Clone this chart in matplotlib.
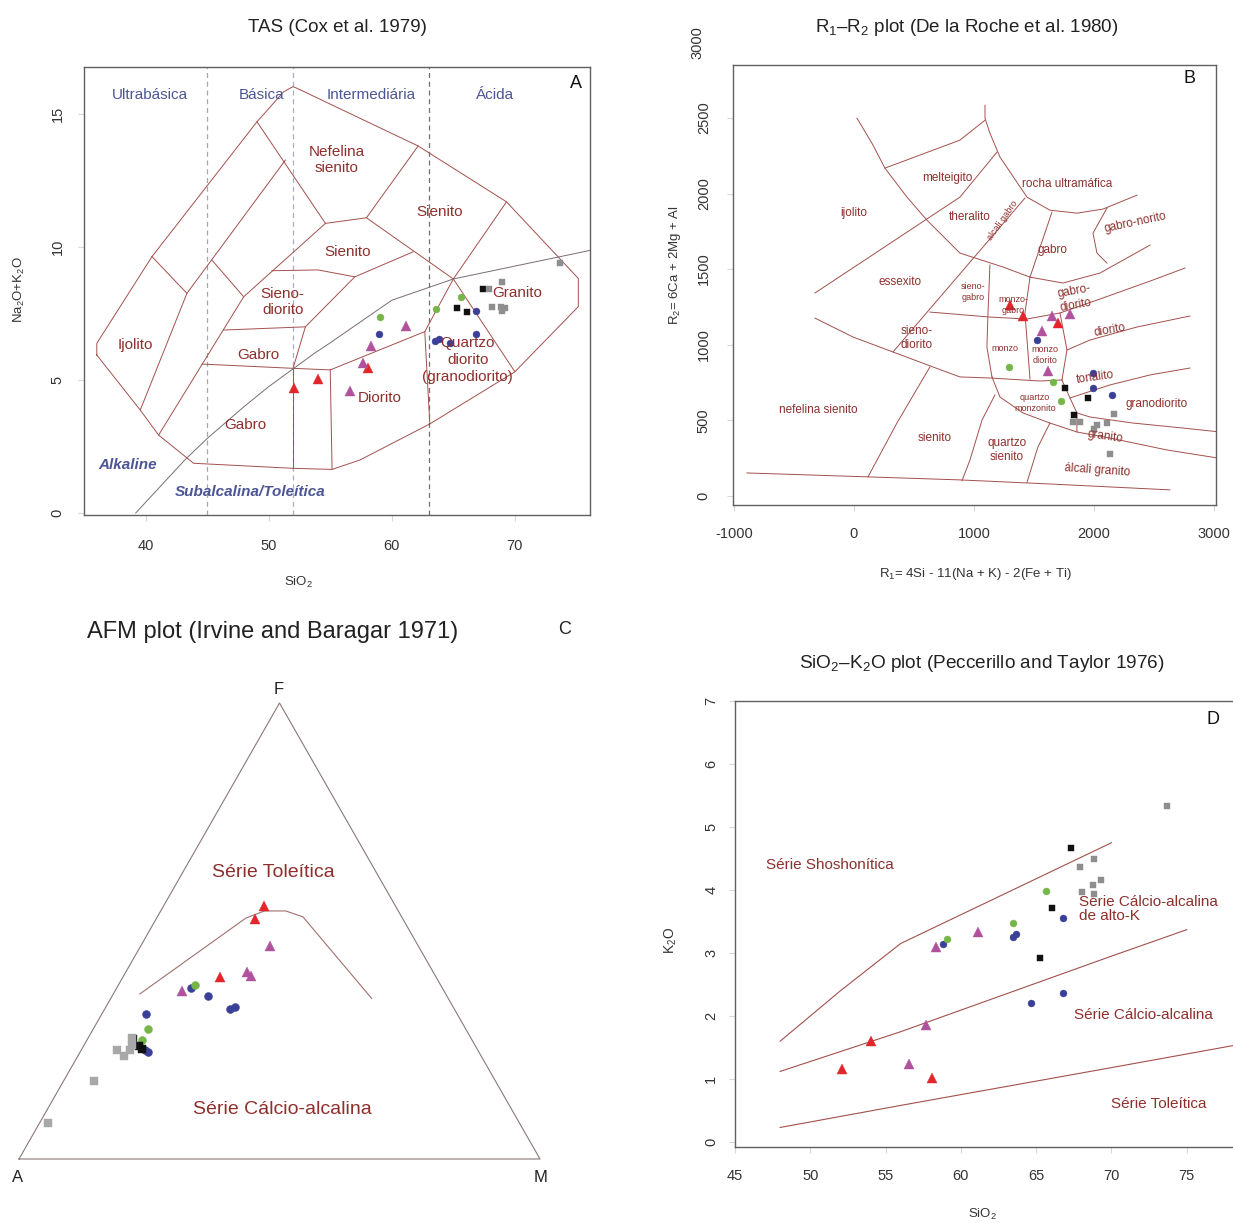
import matplotlib
matplotlib.use("Agg")
import matplotlib.pyplot as plt
import matplotlib.transforms as mtrans
import numpy as np

plt.rcParams['font.family'] = ['Liberation Sans', 'DejaVu Sans']
plt.rcParams['mathtext.fontset'] = 'custom'
plt.rcParams['mathtext.rm'] = 'Liberation Sans'
plt.rcParams['mathtext.it'] = 'Liberation Sans:italic'
plt.rcParams['mathtext.bf'] = 'Liberation Sans:bold'
plt.rcParams['axes.unicode_minus'] = False

# ---------------- sample groups (style) ----------------
groups = ['red', 'magenta', 'blue', 'green', 'black', 'gray']
g_color = {'red': '#e3262b', 'magenta': '#b0529c', 'blue': '#3a3f98',
           'green': '#76b548', 'black': '#111111', 'gray': '#8e8e8e'}
g_marker = {'red': '^', 'magenta': '^', 'blue': 'o', 'green': 'o',
            'black': 's', 'gray': 's'}

# ---------------- Panel A : TAS data ----------------
tas_sio2 = {'red': [52.09, 54.01, 58.07],
            'magenta': [56.59, 57.67, 58.35, 61.14],
            'blue': [59.0, 63.5, 63.8, 64.72, 66.8, 66.8],
            'green': [59.02, 63.63, 65.66],
            'black': [65.26, 66.07, 67.37],
            'gray': [67.91, 68.92, 68.1, 68.9, 68.92, 69.2, 73.66]}
tas_alk = {'red': [4.69, 5.03, 5.44],
           'magenta': [4.6, 5.63, 6.28, 7.03],
           'blue': [6.73, 6.45, 6.55, 6.38, 6.73, 7.6],
           'green': [7.38, 7.66, 8.11],
           'black': [7.69, 7.57, 8.41],
           'gray': [8.41, 8.70, 7.73, 7.75, 7.6, 7.7, 9.41]}

# TAS (Cox et al. 1979) field boundaries
tas_outer_x = [36.04, 39.57, 41.06, 43.9, 51.98, 55.15, 57.4, 63.09, 70.0, 75.15, 75.15,
               69.32, 62.14, 52.3, 51.98, 51.22, 49.05, 40.52, 36.04, 36.04]
tas_outer_y = [5.94, 3.87, 2.93, 1.87, 1.68, 1.64, 1.99, 3.35, 5.31, 7.76, 8.82,
               11.7, 13.8, 15.97, 16.03, 15.84, 14.71, 9.64, 6.38, 5.94]
tas_l2_x = [51.36, 43.36, 39.57]; tas_l2_y = [13.27, 8.26, 3.87]
tas_l3_x = [54.61, 47.97, 41.06]; tas_l3_y = [10.89, 8.13, 2.93]
tas_ijol_x = [40.52, 43.36]; tas_ijol_y = [9.64, 8.26]
tas_col2_x = [45.39, 47.97]; tas_col2_y = [9.51, 8.13]
tas_nefl_x = [49.05, 54.61, 57.94, 62.14]; tas_nefl_y = [14.71, 10.89, 11.1, 13.8]
tas_sien_x = [57.94, 65.0, 69.32]; tas_sien_y = [11.1, 8.8, 11.7]
tas_grqd_x = [65.0, 70.0]; tas_grqd_y = [8.8, 5.31]
tas_qdl_x = [65.0, 62.68, 63.09]; tas_qdl_y = [8.8, 6.82, 3.35]
tas_gab_x = [44.58, 51.98, 55.0, 62.68]; tas_gab_y = [5.6, 5.44, 5.38, 6.82]
tas_v52_x = [51.98, 51.98]; tas_v52_y = [5.44, 1.68]
tas_v55_x = [55.0, 55.15]; tas_v55_y = [5.38, 1.64]
tas_sdb_x = [46.34, 52.98]; tas_sdb_y = [6.88, 7.0]
tas_sdr_x = [51.98, 52.98, 57.0]; tas_sdr_y = [5.44, 7.0, 8.88]
tas_sdt_x = [50.27, 54.0, 57.0, 61.73]; tas_sdt_y = [9.11, 9.14, 8.88, 9.82]
tas_lines = [(tas_outer_x, tas_outer_y), (tas_l2_x, tas_l2_y), (tas_l3_x, tas_l3_y),
             (tas_ijol_x, tas_ijol_y), (tas_col2_x, tas_col2_y), (tas_nefl_x, tas_nefl_y),
             (tas_sien_x, tas_sien_y), (tas_grqd_x, tas_grqd_y), (tas_qdl_x, tas_qdl_y),
             (tas_gab_x, tas_gab_y), (tas_v52_x, tas_v52_y), (tas_v55_x, tas_v55_y),
             (tas_sdb_x, tas_sdb_y), (tas_sdr_x, tas_sdr_y), (tas_sdt_x, tas_sdt_y)]
# Irvine & Baragar alkaline / subalkaline divide
ib_x = [39.2, 40, 43.2, 45, 48, 50, 53.7, 55, 60, 65, 77.4]
ib_y = [0, 0.4, 2, 2.8, 4, 4.75, 6, 6.4, 8, 8.8, 10]
tas_div = [45, 52, 63]
tas_div_col = ['#a8a8a8', '#a9aec8', '#707070']

# ---------------- Panel B : R1-R2 data ----------------
r1 = {'red': [1300, 1411, 1703],
      'magenta': [1648, 1564, 1800, 1619],
      'blue': [1528, 1994, 1989, 2148],
      'green': [1294, 1661, 1725],
      'black': [1758, 1950, 1836],
      'gray': [1828, 1883, 2022, 2000, 2111, 2167, 2133]}
r2 = {'red': [1262, 1190, 1145],
      'magenta': [1190, 1093, 1201, 826],
      'blue': [1031, 815, 712, 668],
      'green': [851, 755, 630],
      'black': [712, 646, 535],
      'gray': [491, 491, 469, 441, 484, 542, 278]}

b_base = ([-892, 117, 883, 1633, 2633], [152, 126, 106, 79, 40])
b_nefsien = ([117, 358, 633], [126, 482, 853])
b_essex = ([325, 1425], [952, 1970])
b_lowcurve = ([-325, -8, 325, 658, 883, 1133, 1550, 1733], [1176, 1051, 952, 853, 787, 780, 760, 767])
b_ijol = ([-325, 883, 1192], [1342, 1976, 2274])
b_c1 = ([25, 150, 258, 442, 608, 775, 883, 1242, 1467, 1742, 2050, 2467],
        [2498, 2333, 2168, 1976, 1824, 1692, 1606, 1514, 1447, 1408, 1474, 1659])
b_melt = ([258, 883, 1092], [2168, 2353, 2485])
b_ultra = ([1092, 1092, 1133, 1217, 1358, 1442, 1633, 1858, 2075, 2358],
           [2584, 2498, 2399, 2241, 2075, 1976, 1890, 1870, 1897, 1989])
b_agab = ([1650, 1467], [1877, 1447])
b_gabnor = ([2108, 1992, 2025, 2108], [1903, 1738, 1606, 1540])
b_gdb = ([633, 1133, 1442, 1717, 2025, 2492, 2758], [1216, 1183, 1170, 1210, 1295, 1428, 1507])
b_monz1 = ([1133, 1117, 1108, 1150], [1527, 1210, 985, 787])
b_monz2 = ([1467, 1425, 1442, 1467], [1447, 1210, 1031, 774])
b_mdr = ([1717, 1775, 1733], [1210, 965, 767])
b_diob = ([2800, 2358, 1967, 1775], [1190, 1117, 1031, 965])
b_qmr = ([1733, 1800, 1858, 1858], [767, 648, 549, 423])
b_tonb = ([2800, 2467, 2133, 1800], [846, 800, 734, 648])
b_grdb = ([3133, 2742, 2325, 1967, 1858], [416, 449, 482, 522, 549])
b_grab = ([3133, 2608, 2133, 1858, 1633, 1408, 1217, 1150], [238, 304, 383, 423, 482, 549, 654, 787])
b_qsl = ([1175, 1067, 967, 900], [668, 502, 238, 100])
b_qsr = ([1633, 1533, 1442], [482, 324, 90])
b_lines = [b_base, b_nefsien, b_essex, b_lowcurve, b_ijol, b_c1, b_melt, b_ultra, b_agab,
           b_gabnor, b_gdb, b_monz1, b_monz2, b_mdr, b_diob, b_qmr, b_tonb, b_grdb, b_grab,
           b_qsl, b_qsr]

# ---------------- Panel C : AFM data (percent A, F, M) ----------------
afm_A = {'red': [25.3, 28.3, 41.5],
         'magenta': [28.4, 35.7, 35.4, 50.2],
         'blue': [48.2, 45.8, 43.0, 41.9, 59.7, 63.5, 63.8],
         'green': [47.2, 60.9, 63.3],
         'black': [64.2, 64.6, 65.0],
         'gray': [65.7, 69.3, 68.6, 66.7, 77.0, 90.4, 65.0]}
afm_F = {'red': [55.5, 52.7, 40.0],
         'magenta': [46.8, 41.0, 40.2, 36.9],
         'blue': [37.4, 35.8, 33.0, 33.4, 31.7, 23.5, 24.0],
         'green': [38.2, 28.6, 26.0],
         'black': [24.2, 24.8, 26.4],
         'gray': [25.1, 23.8, 22.65, 23.8, 17.2, 7.9, 26.6]}
afm_M = {'red': [19.2, 19.0, 18.5],
         'magenta': [24.8, 23.3, 24.4, 12.9],
         'blue': [14.4, 18.4, 24.0, 24.7, 8.6, 13.0, 12.2],
         'green': [14.6, 10.5, 10.7],
         'black': [11.6, 10.6, 8.6],
         'gray': [9.2, 6.9, 8.75, 9.5, 5.8, 1.7, 8.4]}
afm_curve_A = [58.7, 30.1, 25.7, 21.6, 18.95, 14.7]
afm_curve_F = [36.2, 52.8, 54.4, 54.4, 53.1, 35.2]
afm_curve_M = [5.1, 17.1, 19.9, 24.0, 27.95, 50.1]

# ---------------- Panel D : SiO2-K2O data ----------------
pt_sio2 = {'red': [52.08, 54.01, 58.06],
           'magenta': [56.58, 57.67, 58.33, 61.11],
           'blue': [58.81, 63.49, 63.68, 64.68, 66.81, 66.81],
           'green': [59.05, 63.49, 65.64],
           'black': [65.23, 66.08, 67.34],
           'gray': [67.90, 68.07, 68.75, 68.82, 68.87, 69.28, 73.66]}
pt_k2o = {'red': [1.16, 1.61, 1.01],
          'magenta': [1.24, 1.85, 3.09, 3.33],
          'blue': [3.15, 3.26, 3.30, 2.20, 3.56, 2.37],
          'green': [3.22, 3.48, 3.98],
          'black': [2.92, 3.71, 4.67],
          'gray': [4.37, 3.97, 4.08, 4.49, 3.94, 4.16, 5.33]}
pt_shosh = ([48, 52, 56, 63, 70], [1.6, 2.4, 3.15, 3.95, 4.75])
pt_highk = ([48, 56, 63, 70, 75], [1.12, 1.75, 2.35, 2.95, 3.37])
pt_thol = ([48, 56, 63, 70, 79], [0.23, 0.58, 0.88, 1.18, 1.57])

# ---------------- figure ----------------
W, H = 1233, 1223
fig = plt.figure(figsize=(W / 100, H / 100), dpi=100)
LINE = '#a2504c'
LAB = '#8e2f2c'
ZONE = '#4c5694'
SPINE = '#606060'


def ax_px(x0, y0, x1, y1):
    return fig.add_axes([x0 / W, 1 - y1 / H, (x1 - x0) / W, (y1 - y0) / H])


def r_style(ax, xpad, ypad):
    for s in ax.spines.values():
        s.set_color(SPINE)
        s.set_linewidth(1.0)
    ax.tick_params(axis='both', direction='out', length=4, color='#d8d8d8',
                   labelsize=10.5, labelcolor='#333333')
    ax.tick_params(axis='x', pad=xpad)
    ax.tick_params(axis='y', pad=ypad, labelrotation=90)
    for lb in ax.get_yticklabels():
        lb.set_va('center')


def scatter_groups(ax, xs, ys, scale=1.0, gray=None):
    for g in groups:
        m = g_marker[g]
        ms = {'^': 6.5, 'o': 5.0, 's': 5.0}[m] * scale
        c = g_color[g]
        if g == 'gray' and gray is not None:
            c = gray
        ax.plot(xs[g], ys[g], linestyle='none', marker=m, ms=ms, color=c,
                markeredgecolor=c, markeredgewidth=0.3, zorder=5, clip_on=False)


# ======== Panel A ========
axA = ax_px(84, 67, 590, 515)
axA.set_xlim(35, 76.1)
axA.set_ylim(-0.075, 16.77)
axA.set_xticks([40, 50, 60, 70])
axA.set_yticks([0, 5, 10, 15])
r_style(axA, 13, 10)
for xd, cl in zip(tas_div, tas_div_col):
    axA.axvline(xd, color=cl, lw=0.9, ls=(0, (4, 3)), zorder=1)
for lx, ly in tas_lines:
    axA.plot(lx, ly, color=LINE, lw=0.7, zorder=2)
axA.plot(ib_x, ib_y, color='#7a6c74', lw=0.7, zorder=2)
scatter_groups(axA, tas_sio2, tas_alk)
fsA = 11
for t, x in [('Ultrabásica', 40.38), ('Básica', 49.4), ('Intermediária', 58.35), ('Ácida', 68.4)]:
    axA.text(x, 15.71, t, color=ZONE, fontsize=fsA, ha='center', va='center')
for t, x, y in [('Nefelina\nsienito', 55.53, 13.27), ('Sienito', 63.9, 11.32), ('Sienito', 56.42, 9.81),
                ('Sieno-\ndiorito', 51.14, 7.93), ('Ijolito', 39.19, 6.32), ('Gabro', 49.19, 5.94),
                ('Gabro', 48.13, 3.31), ('Diorito', 59.02, 4.32),
                ('Quartzo\ndiorito\n(granodiorito)', 66.18, 5.75), ('Granito', 70.16, 8.27)]:
    axA.text(x, y, t, color=LAB, fontsize=fsA, ha='center', va='center', linespacing=1.25, zorder=6)
axA.text(38.54, 1.80, 'Alkaline', color=ZONE, fontsize=11, fontweight='bold', fontstyle='italic',
         ha='center', va='center')
axA.text(48.46, 0.79, 'Subalcalina/Toleítica', color=ZONE, fontsize=11, fontweight='bold',
         fontstyle='italic', ha='center', va='center')
axA.text(75.0, 16.15, 'A', fontsize=13, ha='center', va='center', color='#111111')
axA.set_xlabel('SiO$_2$', fontsize=9.5, color='#333333')
axA.xaxis.set_label_coords((298 - 84) / 506, (515 - 575) / 448)
axA.set_ylabel('Na$_2$O+K$_2$O', fontsize=9.5, color='#333333')
axA.yaxis.set_label_coords((27 - 84) / 506, (515 - 290) / 448)
fig.text(337 / W, 1 - 28 / H, 'TAS (Cox et al. 1979)', fontsize=13.5, ha='center', va='center',
         color='#222222')

# ======== Panel B ========
axB = ax_px(733, 65, 1216, 505)
axB.set_xlim(-1008, 3017)
axB.set_ylim(-60, 2850)
axB.set_xticks([-1000, 0, 1000, 2000, 3000])
axB.set_yticks([0, 500, 1000, 1500, 2000, 2500])
r_style(axB, 12, 12)
axB.text(-0.0745, 3000, '3000', transform=mtrans.blended_transform_factory(axB.transAxes, axB.transData),
         rotation=90, ha='center', va='center', fontsize=10.5, color='#333333', clip_on=False)
for lx, ly in b_lines:
    axB.plot(lx, ly, color=LINE, lw=0.7, zorder=2)
scatter_groups(axB, r1, r2)
fsB = 8.5
for t, x, y, rot, fs in [('melteigito', 775, 2102, 0, fsB), ('rocha ultramáfica', 1775, 2062, 0, fsB),
                         ('ijolito', 0, 1870, 0, fsB), ('theralito', 967, 1844, 0, fsB),
                         ('alcali gabro', 1242, 1824, 55, 6.5), ('gabro-norito', 2342, 1811, 12, fsB),
                         ('gabro', 1658, 1626, 0, fsB), ('essexito', 383, 1414, 0, fsB),
                         ('sieno-\ngabro', 992, 1348, 0, 6.5), ('monzo-\ngabro', 1325, 1262, 0, 6.5),
                         ('gabro-\ndiorito', 1842, 1309, 10, fsB), ('diorito', 2133, 1097, 10, fsB),
                         ('sieno-\ndiorito', 525, 1044, 0, fsB), ('monzo', 1258, 972, 0, 6.5),
                         ('monzo\ndiorito', 1592, 932, 0, 6.5), ('tonalito', 2008, 787, 8, fsB),
                         ('quartzo\nmonzonito', 1508, 615, 0, 6.5), ('granodiorito', 2525, 608, 0, fsB),
                         ('nefelina sienito', -300, 568, 0, fsB), ('sienito', 675, 383, 0, fsB),
                         ('quartzo\nsienito', 1275, 304, 0, fsB), ('granito', 2092, 390, -8, fsB),
                         ('álcali granito', 2025, 172, -4, fsB)]:
    axB.text(x, y, t, color=LAB, fontsize=fs, rotation=rot, ha='center', va='center',
             linespacing=1.2, zorder=6)
axB.text(2800, 2763, 'B', fontsize=13, ha='center', va='center', color='#111111')
axB.set_xlabel('R$_1$= 4Si - 11(Na + K) - 2(Fe + Ti)', fontsize=9.5, color='#333333')
axB.xaxis.set_label_coords((975 - 733) / 483, (505 - 566) / 440)
axB.set_ylabel('R$_2$= 6Ca + 2Mg + Al', fontsize=9.5, color='#333333')
axB.yaxis.set_label_coords((683 - 733) / 483, (505 - 265) / 440)
fig.text(967 / W, 1 - 28 / H, 'R$_1$–R$_2$ plot (De la Roche et al. 1980)', fontsize=13.5,
         ha='center', va='center', color='#222222')

# ======== Panel C ========
axC = ax_px(19, 703, 540, 1159)
axC.set_xlim(0, 1)
axC.set_ylim(0, 1)
axC.axis('off')


def tern(a, f, m):
    a = np.asarray(a, float); f = np.asarray(f, float); m = np.asarray(m, float)
    s = a + f + m
    return (m + f / 2) / s, f / s


tx, ty = tern([100, 0, 0, 100], [0, 0, 100, 0], [0, 100, 0, 0])
axC.plot(tx, ty, color='#8a7878', lw=0.8, clip_on=False)
cx, cy = tern(afm_curve_A, afm_curve_F, afm_curve_M)
axC.plot(cx, cy, color='#a07070', lw=0.8)
cxs, cys = {}, {}
for g in groups:
    cxs[g], cys[g] = tern(afm_A[g], afm_F[g], afm_M[g])
scatter_groups(axC, cxs, cys, scale=1.15, gray='#a8a8a8')
axC.text(0.489, 0.628, 'Série Toleítica', color=LAB, fontsize=14, ha='center', va='center')
axC.text(0.506, 0.108, 'Série Cálcio-alcalina', color=LAB, fontsize=14, ha='center', va='center')
fig.text(279 / W, 1 - 690 / H, 'F', fontsize=12, ha='center', va='center', color='#222222')
fig.text(18 / W, 1 - 1178 / H, 'A', fontsize=12, ha='center', va='center', color='#222222')
fig.text(541 / W, 1 - 1178 / H, 'M', fontsize=12, ha='center', va='center', color='#222222')
fig.text(273 / W, 1 - 632 / H, 'AFM plot (Irvine and Baragar 1971)', fontsize=17, ha='center',
         va='center', color='#222222')
fig.text(565 / W, 1 - 630 / H, 'C', fontsize=13, ha='center', va='center', color='#222222')

# ======== Panel D ========
axD = ax_px(735, 701, 1250, 1147)
axD.set_xlim(45, 79.2)
axD.set_ylim(-0.08, 6.985)
axD.set_xticks([45, 50, 55, 60, 65, 70, 75])
axD.set_yticks([0, 1, 2, 3, 4, 5, 6, 7])
r_style(axD, 12, 8)
for lx, ly in [pt_shosh, pt_highk, pt_thol]:
    axD.plot(lx, ly, color=LINE, lw=0.8, zorder=2)
scatter_groups(axD, pt_sio2, pt_k2o)
fsD = 11
axD.text(47.06, 4.40, 'Série Shoshonítica', color=LAB, fontsize=fsD, ha='left', va='center')
axD.text(67.83, 3.70, 'Série Cálcio-alcalina\nde alto-K', color=LAB, fontsize=fsD, ha='left',
         va='center', linespacing=1.0)
axD.text(67.49, 2.02, 'Série Cálcio-alcalina', color=LAB, fontsize=fsD, ha='left', va='center')
axD.text(70.0, 0.60, 'Série Toleítica', color=LAB, fontsize=fsD, ha='left', va='center')
axD.text(76.75, 6.71, 'D', fontsize=13, ha='center', va='center', color='#111111')
axD.set_xlabel('SiO$_2$', fontsize=9.5, color='#333333')
axD.xaxis.set_label_coords((982 - 735) / 515, (1147 - 1207) / 446)
axD.set_ylabel('K$_2$O', fontsize=10, color='#333333')
axD.yaxis.set_label_coords((679 - 735) / 515, (1147 - 940) / 446)
fig.text(982 / W, 1 - 664 / H, 'SiO$_2$–K$_2$O plot (Peccerillo and Taylor 1976)', fontsize=13.7,
         ha='center', va='center', color='#222222')

fig.savefig('out.png', dpi=100)
